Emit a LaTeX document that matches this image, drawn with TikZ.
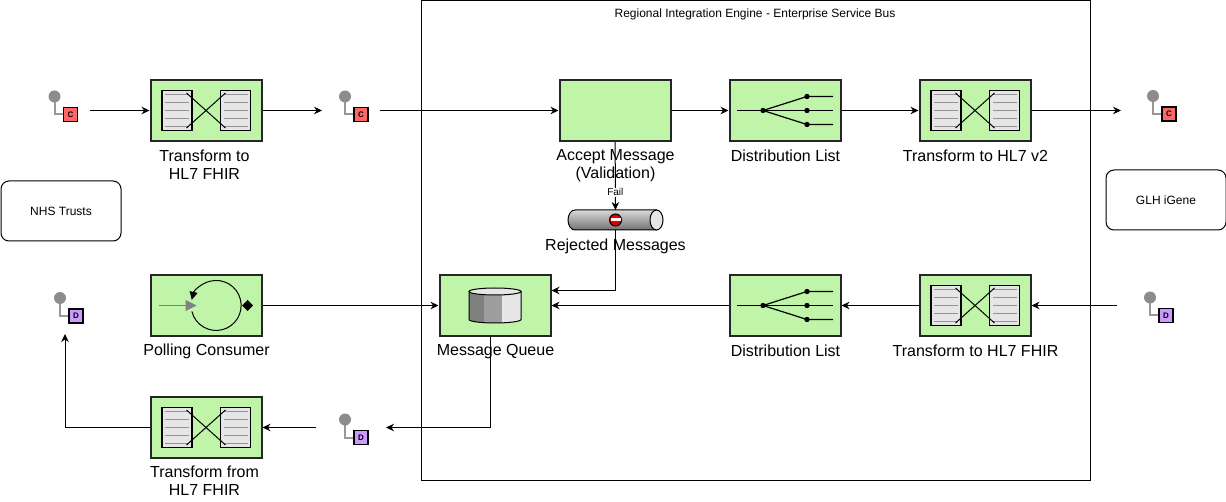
\documentclass[tikz,border=0pt]{standalone}
\usepackage{fontspec}
\setmainfont{Liberation Sans}
\usepackage{xcolor}
\usetikzlibrary{arrows.meta}
\definecolor{eipgreen}{HTML}{C0F5A9}
\definecolor{docgrey}{HTML}{E6E6E6}
\definecolor{linegrey}{HTML}{999999}
\definecolor{chanred}{HTML}{FF6666}
\definecolor{chanpurple}{HTML}{CC99FF}
\newcommand{\lblfont}{\fontsize{16}{18}\selectfont}
\newcommand{\smallfont}{\fontsize{12}{14}\selectfont}

\tikzset{
  pics/chanicon/.style 2 args={code={
    \draw[linegrey, line width=2pt] (0,0) -- (0,-18) -- (12,-18);
    \fill[gray!90] (0,0) circle (6);
    \node[draw=black, line width=1.7pt, fill=#1, minimum size=14pt, inner sep=0pt,
          font=\fontsize{8}{9}\selectfont\bfseries] at (16,-18) {#2};
  }},
  pics/transformicon/.style={code={
    \foreach \dx in {-29,29.5}{
      \draw[fill=docgrey, line width=1.3pt] (\dx-15,-20) rectangle (\dx+15,20);
      \foreach \dy in {-16,-8,0,8,16}
        \draw[gray!85, line width=1pt] (\dx-12,\dy) -- (\dx+12,\dy);
    }
    \draw[line width=1pt] (-19.5,-17.5) -- (19.5,17.5);
    \draw[line width=1pt] (-19.5,17.5) -- (19.5,-17.5);
  }},
  pics/listicon/.style={code={
    \draw[line width=1.2pt] (-48,0) -- (48,0);
    \draw[line width=1.2pt] (-22,0) -- (22,14) -- (48,14);
    \draw[line width=1.2pt] (-22,0) -- (22,-14) -- (48,-14);
    \foreach \dx/\dy in {-22/0,22/-14,22/0,22/14}
      \fill (\dx,\dy) circle (2.7);
  }},
  pics/pollicon/.style={code={
    \draw[gray, line width=1pt, -{Triangle[length=11pt,width=11pt]}] (-47,0) -- (-9.5,0);
    \draw[line width=1pt, -{Triangle[length=8pt,width=8pt]}] (-14.1,-6) arc[start angle=194, end angle=527, radius=25];
    \fill (36,0) -- (41.5,-5.5) -- (47,0) -- (41.5,5.5) -- cycle;
  }},
  pics/dbicon/.style={code={
    \begin{scope}
      \clip (-26,14) -- (-26,-14) arc[start angle=180, end angle=360, x radius=26, y radius=3.5] -- (26,14) -- cycle;
      \fill[gray] (-26,-18) rectangle (-11,14);
      \fill[black!38] (-11,-18) rectangle (7,14);
      \fill[docgrey] (7,-18) rectangle (26,14);
    \end{scope}
    \draw[line width=1pt] (-26,14) -- (-26,-14) arc[start angle=180, end angle=360, x radius=26, y radius=3.5] -- (26,14);
    \draw[line width=1pt, fill=docgrey] (0,14) ellipse (26 and 3.5);
  }}
}

\begin{document}
\begin{tikzpicture}[
  x=1pt, y=1pt, yscale=-1, line width=1pt,
  eipbox/.style={draw=black!85, line width=2pt, fill=eipgreen, minimum width=111pt,
                 minimum height=61pt, inner sep=0pt},
  note/.style={draw, rounded corners=8pt, minimum width=120pt, minimum height=60pt,
               inner sep=0pt, font=\smallfont},
  chan/.style={minimum width=#1, minimum height=58pt, inner sep=0pt, outer sep=0pt},
  lbl/.style={align=center, inner sep=0pt, font=\lblfont},
  faillbl/.style={fill=white, inner sep=1pt, font=\fontsize{10}{12}\selectfont},
  arr/.style={-{Stealth[length=8pt,width=7.5pt]}, line width=1pt}
]
\useasboundingbox (0,0) rectangle (1226,502);

\node[draw, minimum width=669pt, minimum height=479pt, inner sep=0pt] (esb) at (755.5,240.5) {};
\node[font=\smallfont, inner sep=0pt] (esbtitle) at (755,14) {Regional Integration Engine - Enterprise Service Bus};
\node[note] (nhs) at (61,211) {NHS Trusts};
\node[note] (glh) at (1166,200) {GLH iGene};

% top row
\node[chan=58pt] (cin) at (61,110.5) {};
\node[eipbox] (tofhir) at (206,110.5) {};
\node[chan=58pt] (cmid) at (351,110.5) {};
\node[eipbox] (accept) at (615,110.5) {};
\node[eipbox] (distc) at (785,110.5) {};
\node[eipbox] (tovtwo) at (975,110.5) {};
\node[chan=78pt] (cout) at (1160,110.5) {};

% bottom rows
\node[chan=58pt] (dout) at (65,305) {};
\node[eipbox] (poll) at (206,305.5) {};
\node[eipbox] (queue) at (495,305.5) {};
\node[eipbox] (distd) at (785,305.5) {};
\node[eipbox] (backfhir) at (975,305.5) {};
\node[chan=58pt] (din) at (1146,305.5) {};
\node[eipbox] (fromfhir) at (206,427.5) {};
\node[chan=70pt] (dmid) at (351,427.5) {};

% rejected messages pipe
\node[minimum width=95pt, minimum height=20pt, inner sep=0pt, outer sep=0pt] (rej) at (615.5,220) {};
\draw[top color=black!15, bottom color=black!55] (575,230) arc[start angle=90, end angle=270, x radius=7, y radius=10] -- (656.5,210) -- (656.5,230) -- cycle;
\draw[fill=docgrey] (656.5,220) ellipse (6.5 and 10);
\draw[fill=red!90!black] (615.5,220) circle (6);
\fill[white] (610.5,218.5) rectangle (620.5,221.5);

\pic at (54.5,96.5) {chanicon={chanred}{C}};
\pic at (345,96.5) {chanicon={chanred}{C}};
\pic at (1153,96) {chanicon={chanred}{C}};
\pic at (60,298) {chanicon={chanpurple}{D}};
\pic at (1150,297.5) {chanicon={chanpurple}{D}};
\pic at (345,419.5) {chanicon={chanpurple}{D}};

\pic at (tofhir) {transformicon};
\pic at (tovtwo) {transformicon};
\pic at (backfhir) {transformicon};
\pic at (fromfhir) {transformicon};
\pic at (distc) {listicon};
\pic at (distd) {listicon};
\pic at (poll) {pollicon};
\pic at (queue) {dbicon};

\node[lbl] (tofhirlbl) at (204.5,164.5) {Transform to\\HL7 FHIR};
\node[lbl] (acceptlbl) at (615.5,166) {Accept Message\\(Validation)};
\node[lbl] (distclbl) at (785.5,155.5) {Distribution List};
\node[lbl] (tovtwolbl) at (975.5,155.5) {Transform to HL7 v2};
\node[lbl] (rejlbl) at (615.5,246.5) {Rejected Messages};
\node[lbl] (polllbl) at (206.5,351.5) {Polling Consumer};
\node[lbl] (queuelbl) at (495.5,351.5) {Message Queue};
\node[lbl] (distdlbl) at (785.5,350.5) {Distribution List};
\node[lbl] (backfhirlbl) at (975.5,350.5) {Transform to HL7 FHIR};
\node[lbl] (fromfhirlbl) at (204.5,480.5) {Transform from\\HL7 FHIR};

\draw[arr] (cin) -- (tofhir);
\draw[arr] (tofhir) -- (cmid);
\draw[arr] (cmid) -- (accept);
\draw[arr] (accept) -- (distc);
\draw[arr] (distc) -- (tovtwo);
\draw[arr] (tovtwo) -- (cout);
\draw[arr] (accept) -- node[faillbl, pos=.74] {Fail} (rej);
\draw[arr] (rej) |- ([yshift=-15pt]queue.east);
\draw[arr] (poll) -- (queue);
\draw[arr] (distd) -- (queue);
\draw[arr] (backfhir) -- (distd);
\draw[arr] (din) -- (backfhir);
\draw[arr] ([xshift=-4.5pt]queue.south) |- (dmid);
\draw[arr] (dmid) -- (fromfhir);
\draw[arr] (fromfhir) -| (dout);
\end{tikzpicture}
\end{document}
